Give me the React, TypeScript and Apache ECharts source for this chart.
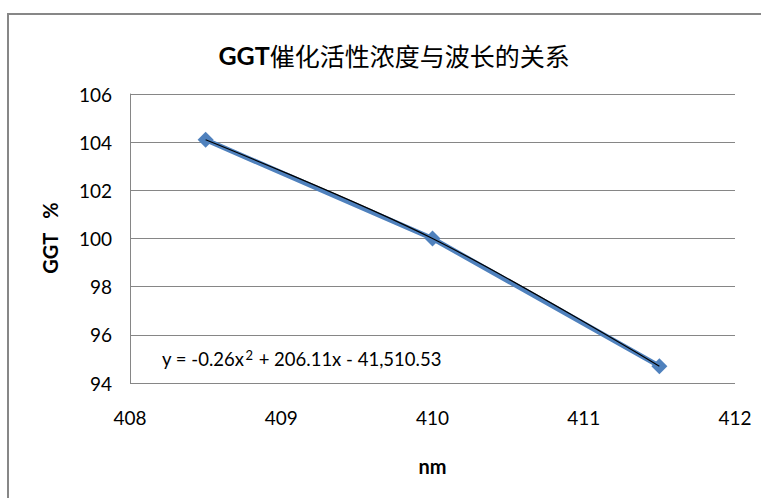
import React, { useEffect, useRef } from "react";
import * as echarts from "echarts";

const titlePrefix = "GGT";
const titleRest = "催化活性浓度与波长的关系";
const wavelengths = [408.5, 410, 411.5];
const ggtValues = [104.1, 100.0, 94.7];
const xMin = 408, xMax = 412, xStep = 1;
const yMin = 94, yMax = 106, yStep = 2;
const equationHead = "y = -0.26x";
const equationPower = "2";
const equationTail = " + 206.11x - 41,510.53";
const yName = "GGT   %";
const xName = "nm";

export default function App() {
  const ref = useRef<HTMLDivElement>(null);
  useEffect(() => {
    document.body.style.margin = "0";
    const chart = echarts.init(ref.current!, null, { renderer: "svg" });
    const pts = wavelengths.map((x, i) => [x, ggtValues[i]]);
    const font = "Lato, 'Noto Sans', sans-serif";
    chart.setOption({
      animation: false,
      backgroundColor: "#fff",
      title: {
        text: "{a|" + titlePrefix + "}{b|" + titleRest + "}",
        left: 389,
        top: 35,
        textAlign: "center",
        textStyle: {
          rich: {
            a: { fontFamily: font, fontSize: 25, fontWeight: "bold", color: "#000", lineHeight: 30 },
            b: { fontFamily: "'Noto Sans CJK SC', sans-serif", fontSize: 25, fontWeight: "normal", color: "#000", lineHeight: 30 },
          },
        },
      },
      grid: { left: 130, right: 26, top: 94, bottom: 115, containLabel: false },
      xAxis: {
        type: "value",
        min: xMin,
        max: xMax,
        interval: xStep,
        axisLine: { show: false },
        axisTick: { show: false },
        splitLine: { show: false },
        axisLabel: { fontFamily: font, fontSize: 19, color: "#000", margin: 25 },
        name: xName,
        nameLocation: "middle",
        nameGap: 73,
        nameTextStyle: { fontFamily: font, fontSize: 20, fontWeight: "bold", color: "#000" },
      },
      yAxis: {
        type: "value",
        min: yMin,
        max: yMax,
        interval: yStep,
        axisLine: { show: true, lineStyle: { color: "#868686", width: 1 } },
        axisTick: { show: false },
        splitLine: { show: true, lineStyle: { color: "#868686", width: 1 } },
        axisLabel: { fontFamily: font, fontSize: 19, color: "#000", margin: 18 },
      },
      graphic: [
        {
          type: "rect",
          shape: { x: 8, y: 14, width: 800, height: 600 },
          style: { fill: "none", stroke: "#878787", lineWidth: 2 },
          silent: true,
        },
        {
          type: "text",
          x: 50,
          y: 238,
          rotation: Math.PI / 2,
          style: {
            text: yName,
            fontFamily: font,
            fontSize: 20,
            fontWeight: "bold",
            fill: "#000",
            align: "center",
            verticalAlign: "middle",
          },
        },
        {
          type: "text",
          x: 162,
          y: 359,
          style: {
            text: "{m|" + equationHead + "}{s|" + equationPower + "}{m|" + equationTail + "}",
            align: "left",
            verticalAlign: "middle",
            rich: {
              m: { fontFamily: font, fontSize: 18.5, color: "#000", lineHeight: 24 },
              s: { fontFamily: font, fontSize: 13, color: "#000", lineHeight: 24, padding: [0, 1, 8, 1] },
            },
          },
        },
      ],
      series: [
        {
          type: "line",
          data: pts,
          symbol: "diamond",
          symbolSize: 16,
          lineStyle: { color: "#4F81BD", width: 5 },
          itemStyle: { color: "#4F81BD" },
          z: 2,
        },
        {
          type: "line",
          data: pts,
          smooth: 0.35,
          showSymbol: false,
          symbol: "none",
          lineStyle: { color: "#000", width: 1.2 },
          z: 3,
        },
      ],
    });
    return () => chart.dispose();
  }, []);
  return <div ref={ref} style={{ width: 761, height: 498 }} />;
}
